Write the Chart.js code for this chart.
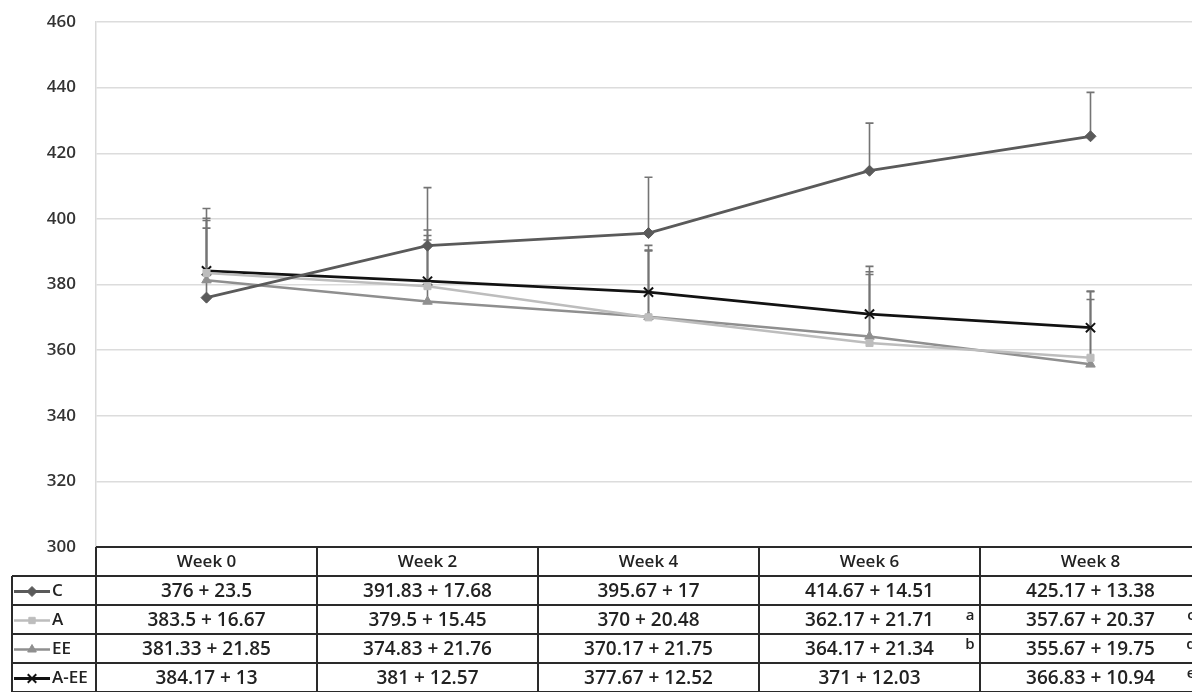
<!DOCTYPE html>
<html>
<head>
<meta charset="utf-8">
<script src="https://cdn.jsdelivr.net/npm/chart.js@4.4.1/dist/chart.umd.min.js"></script>
<style>
  html, body { margin: 0; padding: 0; background: #fff; overflow: hidden; }
  #wrap { width: 1192px; height: 692px; overflow: hidden; }
</style>
</head>
<body>
<div id="wrap"><canvas id="chart" width="1205" height="692"></canvas></div>
<script>
const weeks = ["Week 0", "Week 2", "Week 4", "Week 6", "Week 8"];
const yTicks = [300, 320, 340, 360, 380, 400, 420, 440, 460];

const cMean = [376, 391.83, 395.67, 414.67, 425.17];
const cSd = [23.5, 17.68, 17, 14.51, 13.38];
const aMean = [383.5, 379.5, 370, 362.17, 357.67];
const aSd = [16.67, 15.45, 20.48, 21.71, 20.37];
const eeMean = [381.33, 374.83, 370.17, 364.17, 355.67];
const eeSd = [21.85, 21.76, 21.75, 21.34, 19.75];
const aeeMean = [384.17, 381, 377.67, 371, 366.83];
const aeeSd = [13, 12.57, 12.52, 12.03, 10.94];

const cNotes = ["", "", "", "", ""];
const aNotes = ["", "", "", "a", "c"];
const eeNotes = ["", "", "", "b", "d"];
const aeeNotes = ["", "", "", "", "e"];

const FONT = "'Open Sans', 'Liberation Sans', sans-serif";
const TEXT = "#222";

function dataset(label, mean, sd, notes, color, pointStyle, radius, width) {
  return {
    label,
    data: mean,
    sd,
    notes,
    borderColor: color,
    backgroundColor: color,
    pointBackgroundColor: color,
    pointBorderColor: color,
    pointStyle,
    pointRadius: radius,
    pointHoverRadius: radius,
    pointBorderWidth: pointStyle === "crossRot" ? 2 : 1,
    borderWidth: width,
    tension: 0,
    fill: false
  };
}

const datasets = [
  dataset("C", cMean, cSd, cNotes, "#5a5a5a", "rectRot", 5.5, 2.8),
  dataset("A", aMean, aSd, aNotes, "#bdbdbd", "rect", 5, 2.5),
  dataset("EE", eeMean, eeSd, eeNotes, "#8f8f8f", "triangle", 5.5, 2.5),
  dataset("A-EE", aeeMean, aeeSd, aeeNotes, "#121212", "crossRot", 6.5, 2.8)
];

// upward error bars (mean + sd)
const errorBars = {
  id: "errorBars",
  beforeDatasetsDraw(chart) {
    const { ctx, scales: { y } } = chart;
    ctx.save();
    ctx.strokeStyle = "#747474";
    ctx.lineWidth = 1.6;
    chart.data.datasets.forEach((ds, di) => {
      chart.getDatasetMeta(di).data.forEach((pt, i) => {
        const top = y.getPixelForValue(ds.data[i] + ds.sd[i]);
        ctx.beginPath();
        ctx.moveTo(pt.x, pt.y);
        ctx.lineTo(pt.x, top);
        ctx.moveTo(pt.x - 4, top);
        ctx.lineTo(pt.x + 4, top);
        ctx.stroke();
      });
    });
    ctx.restore();
  }
};

function marker(ctx, ds, x, y) {
  const h = Chart.helpers;
  ctx.fillStyle = ds.pointBackgroundColor;
  ctx.strokeStyle = ds.pointBorderColor;
  ctx.lineWidth = ds.pointBorderWidth;
  if (h && h.drawPoint) {
    h.drawPoint(ctx, { pointStyle: ds.pointStyle, radius: ds.pointRadius - 0.5, borderWidth: ds.pointBorderWidth, rotation: 0 }, x, y);
  }
}

// data table under the plot, laid out on the category scale
const dataTable = {
  id: "dataTable",
  afterDraw(chart) {
    const { ctx, chartArea: area, scales: { x } } = chart;
    const n = weeks.length;
    const colW = (x.right - x.left) / n;
    const rowH = 29;
    const top = area.bottom;
    const rows = chart.data.datasets.length;
    const legendLeft = 12;
    const bottom = top + rowH * (rows + 1);

    ctx.save();
    ctx.strokeStyle = "#2a2a2a";
    ctx.lineWidth = 2;
    ctx.beginPath();
    ctx.moveTo(x.left, top); ctx.lineTo(x.right, top);
    ctx.moveTo(x.left, top); ctx.lineTo(x.left, bottom);
    ctx.moveTo(x.right, top); ctx.lineTo(x.right, bottom);
    for (let r = 1; r <= rows + 1; r++) {
      ctx.moveTo(legendLeft, top + r * rowH);
      ctx.lineTo(x.right, top + r * rowH);
    }
    ctx.moveTo(legendLeft, top + rowH); ctx.lineTo(legendLeft, bottom);
    for (let i = 1; i < n; i++) {
      ctx.moveTo(x.left + i * colW, top);
      ctx.lineTo(x.left + i * colW, bottom);
    }
    ctx.stroke();

    ctx.fillStyle = TEXT;
    ctx.textAlign = "center";
    ctx.textBaseline = "middle";
    ctx.font = "600 17px " + FONT;
    weeks.forEach((w, i) => ctx.fillText(w, x.getPixelForValue(i), top + rowH / 2 + 1));

    chart.data.datasets.forEach((ds, r) => {
      const cy = top + rowH * (r + 1) + rowH / 2 + 1;
      ctx.fillStyle = TEXT;
      ctx.textAlign = "center";
      ctx.font = "600 19px " + FONT;
      ds.data.forEach((m, i) => {
        ctx.fillText(m + " + " + ds.sd[i], x.getPixelForValue(i), cy);
      });
      ctx.font = "600 15px " + FONT;
      ds.notes.forEach((note, i) => {
        if (note) ctx.fillText(note, x.left + (i + 1) * colW - 10, cy - 5);
      });

      // legend key
      ctx.strokeStyle = ds.borderColor;
      ctx.lineWidth = ds.borderWidth;
      ctx.beginPath();
      ctx.moveTo(14, cy); ctx.lineTo(50, cy);
      ctx.stroke();
      marker(ctx, ds, 32, cy);
      ctx.fillStyle = TEXT;
      ctx.textAlign = "left";
      ctx.font = "600 17px " + FONT;
      ctx.fillText(ds.label, 52, cy);
    });
    ctx.restore();
  }
};

new Chart(document.getElementById("chart"), {
  type: "line",
  data: { labels: weeks, datasets },
  options: {
    responsive: false,
    animation: false,
    devicePixelRatio: 1,
    layout: { autoPadding: false, padding: { top: 22, right: 4, bottom: 145, left: 0 } },
    plugins: {
      legend: { display: false },
      tooltip: { enabled: false }
    },
    scales: {
      x: {
        display: false,
        offset: true
      },
      y: {
        min: yTicks[0],
        max: yTicks[yTicks.length - 1],
        afterFit: (s) => { s.width = 96; },
        afterBuildTicks: (s) => { s.ticks = yTicks.map((v) => ({ value: v })); },
        border: { display: true, color: "#d9d9d9", width: 1.5 },
        grid: { color: "#dcdcdc", lineWidth: 1.5, drawTicks: true, tickLength: 15, tickColor: "rgba(0,0,0,0)" },
        ticks: {
          padding: 5,
          color: "#333",
          font: { family: FONT, size: 17, weight: "600" }
        }
      }
    }
  },
  plugins: [errorBars, dataTable]
});
</script>
</body>
</html>
